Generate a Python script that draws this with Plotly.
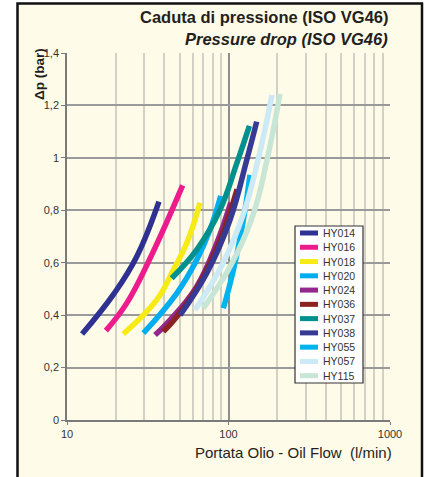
import plotly.graph_objects as go

# ---------------- data ----------------
series_names = ["HY014", "HY016", "HY018", "HY020", "HY024", "HY036",
                "HY037", "HY038", "HY055", "HY057", "HY115"]
series_colors = ["#2E3192", "#EC1C8C", "#F6EB16", "#00AEEF", "#92278F", "#8B2323",
                 "#00918E", "#363A94", "#00B4EF", "#CCE9F6", "#C8E6D5"]

hy014_q = [12.4, 19.6, 27.0, 37.1]
hy014_dp = [0.328, 0.483, 0.623, 0.833]
hy016_q = [17.4, 23.4, 32.7, 52.0]
hy016_dp = [0.341, 0.445, 0.617, 0.895]
hy018_q = [22.3, 35.9, 45.5, 55.1, 66.6]
hy018_dp = [0.328, 0.458, 0.572, 0.674, 0.829]
hy020_q = [29.7, 47.8, 63.5, 76.7, 89.5]
hy020_dp = [0.331, 0.483, 0.610, 0.725, 0.855]
hy024_q = [35.1, 43.4, 63.5, 84.5, 103.2]
hy024_dp = [0.324, 0.381, 0.509, 0.674, 0.829]
hy036_q = [39.5, 47.8, 64.0, 88.0, 113.0]
hy036_dp = [0.337, 0.394, 0.505, 0.680, 0.880]
hy037_q = [44.5, 63.5, 88.5, 112.5, 134.7]
hy037_dp = [0.541, 0.649, 0.801, 0.979, 1.122]
hy038_q = [50.1, 73.3, 102.1, 129.7, 149.5]
hy038_dp = [0.400, 0.560, 0.763, 0.992, 1.138]
hy055_q = [92.9, 107.2, 123.6, 135.8]
hy055_dp = [0.426, 0.572, 0.763, 0.935]
hy057_q = [62.0, 91.2, 123.0, 152.3, 185.9]
hy057_dp = [0.420, 0.591, 0.782, 0.992, 1.240]
hy115_q = [69.8, 103.6, 141.8, 173.1, 208.4]
hy115_dp = [0.426, 0.591, 0.782, 0.992, 1.244]

series_q = [hy014_q, hy016_q, hy018_q, hy020_q, hy024_q, hy036_q,
            hy037_q, hy038_q, hy055_q, hy057_q, hy115_q]
series_dp = [hy014_dp, hy016_dp, hy018_dp, hy020_dp, hy024_dp, hy036_dp,
             hy037_dp, hy038_dp, hy055_dp, hy057_dp, hy115_dp]

x_tick_vals = [10, 100, 1000]
x_tick_text = ["10", "100", "1000"]
y_tick_vals = [0, 0.2, 0.4, 0.6, 0.8, 1.0, 1.2, 1.4]
y_tick_text = ["0", "0,2", "0,4", "0,6", "0,8", "1", "1,2", "1,4"]

title_it = "Caduta di pressione (ISO VG46)"
title_en = "Pressure drop (ISO VG46)"
x_title = "Portata Olio - Oil Flow \u00a0(l/min)"
y_title = "\u0394p (bar)"

# ---------------- layout geometry ----------------
W, H = 429, 477
ML, MR, MT, MB = 67, 39, 53, 57
PW, PH = W - ML - MR, H - MT - MB
FONT = "Liberation Sans, Arial, sans-serif"
CREAM = "#FFFBE9"


def px_x(p):
    return (p - ML) / PW


def px_y(p):
    return (H - MB - p) / PH


fig = go.Figure()
for name, color, q, dp in zip(series_names, series_colors, series_q, series_dp):
    fig.add_trace(go.Scatter(
        x=q, y=dp, mode="lines", name=name,
        line=dict(color=color, width=5.5, shape="spline", smoothing=1.2),
        showlegend=False, hoverinfo="skip"))

shapes = [
    dict(type="rect", xref="paper", yref="paper",
         x0=px_x(17.5), x1=px_x(422), y0=px_y(490), y1=px_y(3.5),
         fillcolor=CREAM, line=dict(color="#111111", width=2.5), layer="below"),
]

annotations = [
    dict(text="<b>" + title_it + "</b>", xref="paper", yref="paper",
         x=1.0, y=px_y(17), xanchor="right", yanchor="middle", showarrow=False,
         font=dict(family=FONT, size=16.5, color="#231F20")),
    dict(text="<b><i>" + title_en + "</i></b>", xref="paper", yref="paper",
         x=1.0, y=px_y(38.5), xanchor="right", yanchor="middle", showarrow=False,
         font=dict(family=FONT, size=16.5, color="#231F20")),
    dict(text="<b>" + y_title + "</b>", xref="paper", yref="paper",
         x=px_x(40), y=px_y(74), xanchor="center", yanchor="middle",
         textangle=-90, showarrow=False,
         font=dict(family=FONT, size=13.5, color="#231F20")),
    dict(text=x_title, xref="paper", yref="paper",
         x=px_x(293), y=px_y(452), xanchor="center", yanchor="middle",
         showarrow=False, font=dict(family=FONT, size=15, color="#231F20")),
]

LX0, LX1, LY0, LY1 = 295, 363, 226, 383
shapes.append(dict(type="rect", xref="paper", yref="paper",
                   x0=px_x(LX0), x1=px_x(LX1), y0=px_y(LY1), y1=px_y(LY0),
                   fillcolor="white", line=dict(color="#333333", width=1.2),
                   layer="above"))
step = (375.7 - 233.0) / (len(series_names) - 1)
for i, (name, color) in enumerate(zip(series_names, series_colors)):
    yy = 233.0 + i * step
    shapes.append(dict(type="line", xref="paper", yref="paper",
                       x0=px_x(300), x1=px_x(318), y0=px_y(yy), y1=px_y(yy),
                       line=dict(color=color, width=5), layer="above"))
    annotations.append(dict(text=name, xref="paper", yref="paper",
                            x=px_x(321), y=px_y(yy), xanchor="left", yanchor="middle",
                            showarrow=False,
                            font=dict(family=FONT, size=10.5, color="#333333")))

fig.update_layout(
    width=W, height=H,
    margin=dict(l=ML, r=MR, t=MT, b=MB, pad=0),
    paper_bgcolor="white", plot_bgcolor=CREAM,
    font=dict(family=FONT, size=11, color="#333333"),
    shapes=shapes, annotations=annotations, showlegend=False,
    xaxis=dict(type="log", range=[1, 3], tickmode="array",
               tickvals=x_tick_vals, ticktext=x_tick_text,
               showgrid=True, gridcolor="#8E8E8E", gridwidth=1.5,
               showline=True, linecolor="#7A7A7A", linewidth=1.5,
               ticks="outside", ticklen=3, tickcolor="#7A7A7A",
               tickfont=dict(family=FONT, size=11, color="#333333"),
               minor=dict(dtick="D1", showgrid=True, gridcolor="#D3D1C6",
                          gridwidth=1.5, ticks=""),
               zeroline=False, fixedrange=True),
    yaxis=dict(range=[0, 1.4], tickmode="array",
               tickvals=y_tick_vals, ticktext=y_tick_text,
               showgrid=True, gridcolor="#9A9A9A", gridwidth=1.5,
               showline=True, linecolor="#7A7A7A", linewidth=1.5,
               ticks="outside", ticklen=4, tickcolor="#7A7A7A",
               tickfont=dict(family=FONT, size=11, color="#333333"),
               zeroline=False, fixedrange=True),
)

fig.write_html("out.html", config={"displayModeBar": False},
               post_script="document.body.style.margin='0';")
